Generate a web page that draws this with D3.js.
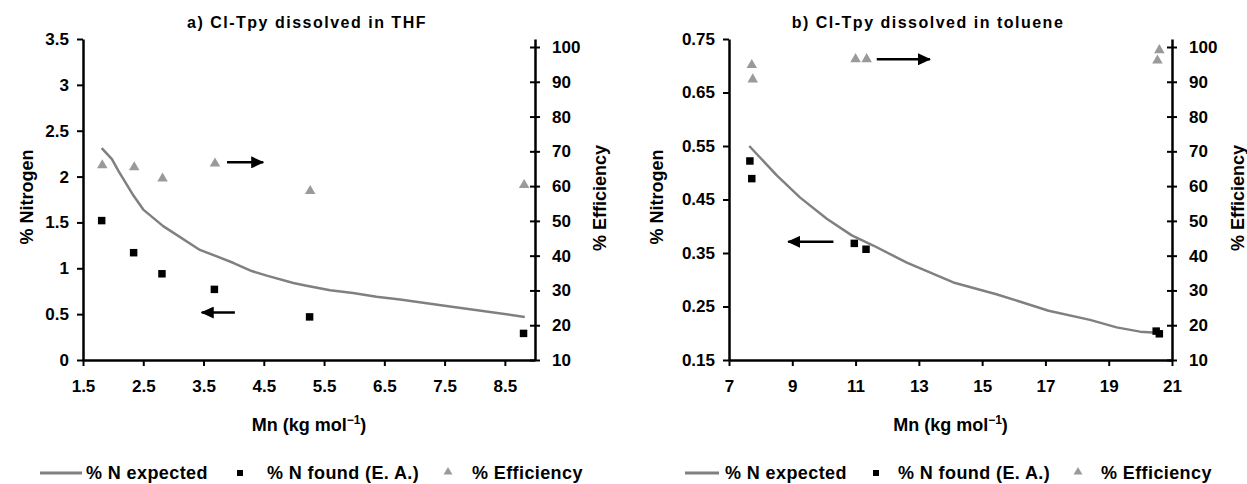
<!DOCTYPE html>
<html>
<head>
<meta charset="utf-8">
<script src="https://cdn.jsdelivr.net/npm/d3@7"></script>
<style>
body { margin: 0; background: #fff; }
text { font-family: "Liberation Sans", Arial, sans-serif; font-weight: bold; fill: #000; }
</style>
</head>
<body>
<div id="chart"></div>
<script>
width = 1247;
height = 484;

// a) Cl-Tpy dissolved in THF
var thfExpMn = [1.81, 1.98, 2.09, 2.34, 2.50, 2.83, 3.44, 3.72, 3.99, 4.30, 4.55, 4.99, 5.21, 5.60, 5.98, 6.37, 6.76, 7.53, 8.83];
var thfExpN = [2.31, 2.19, 2.06, 1.79, 1.64, 1.46, 1.20, 1.13, 1.06, 0.97, 0.92, 0.84, 0.81, 0.76, 0.73, 0.69, 0.66, 0.59, 0.47];
var thfFoundMn = [1.81, 2.34, 2.81, 3.68, 5.26, 8.81];
var thfFoundN = [1.52, 1.17, 0.94, 0.77, 0.47, 0.29];
var thfEffMn = [1.82, 2.35, 2.82, 3.69, 5.27, 8.82];
var thfEff = [66.0, 65.4, 62.2, 66.5, 58.6, 60.3];

// b) Cl-Tpy dissolved in toluene
var tolExpMn = [7.64, 8.51, 9.24, 10.09, 10.88, 11.56, 12.62, 14.09, 15.45, 17.10, 18.41, 19.25, 19.99, 20.52];
var tolExpN = [0.550, 0.495, 0.454, 0.414, 0.383, 0.364, 0.332, 0.295, 0.273, 0.242, 0.225, 0.211, 0.203, 0.201];
var tolFoundMn = [7.66, 7.72, 10.96, 11.33, 20.50, 20.60];
var tolFoundN = [0.522, 0.489, 0.368, 0.357, 0.204, 0.199];
var tolEffMn = [7.72, 7.75, 11.00, 11.35, 20.60, 20.54];
var tolEff = [94.8, 90.7, 96.5, 96.5, 99.1, 96.1];

// ticks
var thfXTicks = [1.5, 2.5, 3.5, 4.5, 5.5, 6.5, 7.5, 8.5];
var thfYTicks = [0, 0.5, 1, 1.5, 2, 2.5, 3, 3.5];
var tolXTicks = [7, 9, 11, 13, 15, 17, 19, 21];
var tolYTicks = [0.15, 0.25, 0.35, 0.45, 0.55, 0.65, 0.75];
var effTicks = [10, 20, 30, 40, 50, 60, 70, 80, 90, 100];
var legendLabels = ["% N expected", "% N found (E. A.)", "% Efficiency"];

var lineColor = "#808080";
var triColor = "#9a9a9a";

var svg = d3.select("#chart").append("svg")
  .attr("width", width)
  .attr("height", height)
  .style("background-color", "white");

var defs = svg.append("defs");
defs.append("marker")
  .attr("id", "head")
  .attr("markerUnits", "userSpaceOnUse")
  .attr("markerWidth", 14)
  .attr("markerHeight", 12)
  .attr("refX", 12)
  .attr("refY", 6)
  .attr("orient", "auto")
  .append("path")
  .attr("d", "M0,0 L13,6 L0,12 Z")
  .attr("fill", "#000");

function zip(a, b) {
  return a.map(function (d, i) { return [d, b[i]]; });
}

function drawPanel(p) {
  var g = svg.append("g");
  var x = d3.scaleLinear().domain(p.xDomain).range([p.left, p.right]);
  var y = d3.scaleLinear().domain(p.yDomain).range([360, 39]);
  var y2 = d3.scaleLinear().domain([10, 102.3]).range([360, 39]);

  // left axis
  var ya = g.append("g")
    .attr("transform", "translate(" + p.left + ",0)")
    .call(d3.axisLeft(y).tickValues(p.yTicks).tickSize(6).tickSizeOuter(0).tickPadding(8).tickFormat(String));
  // bottom axis
  var xa = g.append("g")
    .attr("transform", "translate(0,360)")
    .call(d3.axisBottom(x).tickValues(p.xTicks).tickSize(6).tickSizeOuter(0).tickPadding(14).tickFormat(String));
  // right axis, ticks cross the line
  var y2a = g.append("g")
    .attr("transform", "translate(" + p.right + ",0)")
    .call(d3.axisRight(y2).tickValues(effTicks).tickSize(5).tickSizeOuter(0).tickPadding(12));
  y2a.selectAll(".tick line").attr("x1", -5);

  [ya, xa, y2a].forEach(function (a) {
    a.select(".domain").attr("stroke-width", 2.5);
    a.selectAll(".tick line").attr("stroke-width", 2);
    a.selectAll(".tick text").style("font-size", "17px").attr("fill", "#000");
  });

  // title
  g.append("text")
    .attr("x", p.titleX)
    .attr("y", 28)
    .attr("text-anchor", "middle")
    .style("font-size", "16px")
    .style("letter-spacing", "1.5px")
    .text(p.title);

  // axis titles
  g.append("text")
    .attr("transform", "translate(" + p.yTitleX + ",197) rotate(-90)")
    .attr("text-anchor", "middle")
    .style("font-size", "18px")
    .text("% Nitrogen");
  g.append("text")
    .attr("transform", "translate(" + p.y2TitleX + ",198) rotate(-90)")
    .attr("text-anchor", "middle")
    .style("font-size", "18px")
    .text("% Efficiency");
  var xt = g.append("text")
    .attr("x", (p.left + p.right) / 2)
    .attr("y", 431)
    .attr("text-anchor", "middle")
    .style("font-size", "18px");
  xt.append("tspan").text("Mn (kg mol");
  xt.append("tspan").attr("dy", -7).style("font-size", "12px").text("\u22121");
  xt.append("tspan").attr("dy", 7).text(")");

  // expected line
  var line = d3.line().x(function (d) { return x(d[0]); }).y(function (d) { return y(d[1]); });
  g.append("path")
    .datum(zip(p.expMn, p.expN))
    .attr("d", line)
    .attr("fill", "none")
    .attr("stroke", lineColor)
    .attr("stroke-width", 2.5)
    .attr("stroke-linejoin", "round");

  // found squares
  g.selectAll(".sq")
    .data(zip(p.foundMn, p.foundN))
    .join("path")
    .attr("class", "sq")
    .attr("transform", function (d) { return "translate(" + x(d[0]) + "," + y(d[1]) + ")"; })
    .attr("d", d3.symbol(d3.symbolSquare, 56))
    .attr("fill", "#000");

  // efficiency triangles
  g.selectAll(".tri")
    .data(zip(p.effMn, p.eff))
    .join("path")
    .attr("class", "tri")
    .attr("transform", function (d) { return "translate(" + x(d[0]) + "," + y2(d[1]) + ")"; })
    .attr("d", d3.symbol(d3.symbolTriangle, 48))
    .attr("fill", triColor);

  // arrows
  p.arrows.forEach(function (a) {
    g.append("line")
      .attr("x1", x(a[0])).attr("x2", x(a[1]))
      .attr("y1", y(a[2])).attr("y2", y(a[2]))
      .attr("stroke", "#000")
      .attr("stroke-width", 2.5)
      .attr("marker-end", "url(#head)");
  });

  // legend
  var ly = 473;
  var lg = g.append("g");
  lg.append("line")
    .attr("x1", p.leg[0]).attr("x2", p.leg[1])
    .attr("y1", ly).attr("y2", ly)
    .attr("stroke", lineColor).attr("stroke-width", 3);
  lg.append("path")
    .attr("transform", "translate(" + p.leg[3] + "," + ly + ")")
    .attr("d", d3.symbol(d3.symbolSquare, 36))
    .attr("fill", "#000");
  lg.append("path")
    .attr("transform", "translate(" + p.leg[5] + "," + (ly - 1) + ")")
    .attr("d", d3.symbol(d3.symbolTriangle, 34))
    .attr("fill", triColor);
  [p.leg[2], p.leg[4], p.leg[6]].forEach(function (tx, i) {
    lg.append("text")
      .attr("x", tx)
      .attr("y", ly + 6)
      .style("font-size", "18px")
      .style("letter-spacing", "0.4px")
      .text(legendLabels[i]);
  });
}

drawPanel({
  left: 83, right: 535,
  xDomain: [1.5, 9], yDomain: [0, 3.5],
  xTicks: thfXTicks, yTicks: thfYTicks,
  title: "a) Cl-Tpy dissolved in THF", titleX: 307,
  yTitleX: 33, y2TitleX: 606,
  expMn: thfExpMn, expN: thfExpN,
  foundMn: thfFoundMn, foundN: thfFoundN,
  effMn: thfEffMn, eff: thfEff,
  arrows: [[3.89, 4.49, 2.155], [4.02, 3.47, 0.517]],
  leg: [40, 82, 86, 240, 267, 448, 472]
});

drawPanel({
  left: 729, right: 1172,
  xDomain: [7, 21], yDomain: [0.15, 0.75],
  xTicks: tolXTicks, yTicks: tolYTicks,
  title: "b) Cl-Tpy dissolved in toluene", titleX: 928,
  yTitleX: 663, y2TitleX: 1244,
  expMn: tolExpMn, expN: tolExpN,
  foundMn: tolFoundMn, foundN: tolFoundN,
  effMn: tolEffMn, eff: tolEff,
  arrows: [[11.67, 13.35, 0.712], [10.30, 8.87, 0.371]],
  leg: [685, 719, 725, 876, 898, 1078, 1101]
});
</script>
</body>
</html>
